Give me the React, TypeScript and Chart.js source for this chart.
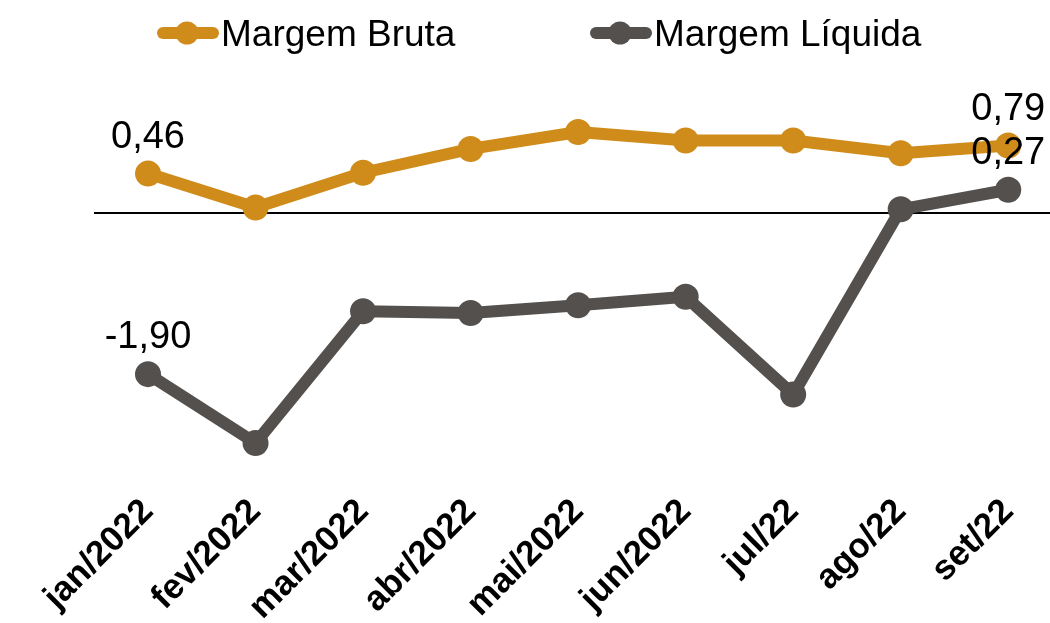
import React, { useEffect, useRef } from 'react';
import { Chart, registerables } from 'chart.js';

Chart.register(...registerables);

const categories = ['jan/2022', 'fev/2022', 'mar/2022', 'abr/2022', 'mai/2022', 'jun/2022', 'jul/22', 'ago/22', 'set/22'];
const margemBruta = [0.46, 0.06, 0.47, 0.75, 0.95, 0.85, 0.85, 0.70, 0.79];
const margemLiquida = [-1.90, -2.71, -1.16, -1.18, -1.09, -0.99, -2.14, 0.04, 0.27];
const seriesNames = ['Margem Bruta', 'Margem Líquida'];
const seriesColors = ['#D08C1A', '#53504E'];
const labeledIndices = [0, 8];

const FONT = '"Liberation Sans", Arial, Helvetica, sans-serif';

const fmt = (v: number) => v.toFixed(2).replace('.', ',');

const dataLabelPlugin = {
  id: 'dataLabels',
  afterDatasetsDraw(chart: any) {
    const ctx = chart.ctx;
    ctx.save();
    ctx.font = `38px ${FONT}`;
    ctx.fillStyle = '#000';
    ctx.textAlign = 'center';
    ctx.textBaseline = 'alphabetic';
    chart.data.datasets.forEach((ds: any, di: number) => {
      const meta = chart.getDatasetMeta(di);
      labeledIndices.forEach((i) => {
        const el = meta.data[i];
        if (!el) return;
        ctx.fillText(fmt(ds.data[i]), el.x, el.y - 26);
      });
    });
    ctx.restore();
  },
};

const customLegendPlugin = {
  id: 'customLegend',
  afterDraw(chart: any, _args: any, opts: any) {
    const ctx = chart.ctx;
    const starts: number[] = opts.starts || [];
    const y = opts.y || 33;
    ctx.save();
    chart.data.datasets.forEach((ds: any, di: number) => {
      const x0 = starts[di];
      const color = ds.borderColor;
      ctx.strokeStyle = color;
      ctx.lineWidth = 12;
      ctx.lineCap = 'round';
      ctx.beginPath();
      ctx.moveTo(x0 + 6, y);
      ctx.lineTo(x0 + 56, y);
      ctx.stroke();
      ctx.fillStyle = color;
      ctx.beginPath();
      ctx.arc(x0 + 30, y, 11.5, 0, Math.PI * 2);
      ctx.fill();
      ctx.fillStyle = '#000';
      ctx.font = `37px ${FONT}`;
      ctx.textAlign = 'left';
      ctx.textBaseline = 'alphabetic';
      ctx.fillText(ds.label, x0 + 64, y + 13);
    });
    ctx.restore();
  },
};

export default function App() {
  const canvasRef = useRef<HTMLCanvasElement | null>(null);

  useEffect(() => {
    document.body.style.margin = '0';
    const canvas = canvasRef.current;
    if (!canvas) return;
    const makeDataset = (label: string, data: number[], color: string) =>
      ({
        label,
        data,
        borderColor: color,
        backgroundColor: color,
        pointBackgroundColor: color,
        borderWidth: 12,
        pointRadius: 13,
        pointHoverRadius: 13,
        pointBorderWidth: 0,
        tension: 0,
        borderJoinStyle: 'round',
        clip: false,
      } as any);
    const chart = new Chart(canvas, {
      type: 'line',
      data: {
        labels: categories,
        datasets: [
          makeDataset(seriesNames[0], margemBruta, seriesColors[0]),
          makeDataset(seriesNames[1], margemLiquida, seriesColors[1]),
        ],
      },
      options: {
        responsive: false,
        animation: false,
        events: [],
        layout: { autoPadding: false, padding: { top: 100, left: 94.25, right: 0, bottom: 0 } },
        plugins: {
          legend: { display: false },
          tooltip: { enabled: false },
          customLegend: { starts: [157, 590], y: 33 },
        } as any,
        scales: {
          x: {
            type: 'category',
            offset: true,
            grid: { display: false, drawTicks: false },
            border: { display: false },
            ticks: {
              color: '#000',
              font: { family: FONT, size: 35, weight: 'bold' },
              maxRotation: 45,
              minRotation: 45,
              autoSkip: false,
              padding: 3,
            },
            afterFit: (scale: any) => {
              scale.height = 135;
            },
          },
          y: {
            min: -3.24,
            max: 1.326,
            grid: {
              drawTicks: false,
              color: (c: any) => (c.tick && c.tick.value === 0 ? '#000' : 'rgba(0,0,0,0)'),
              lineWidth: 2,
            },
            border: { display: false },
            ticks: { display: false },
            afterBuildTicks: (scale: any) => {
              scale.ticks = [{ value: 0 }];
            },
            afterFit: (scale: any) => {
              scale.width = 0;
            },
          },
        },
      } as any,
      plugins: [dataLabelPlugin, customLegendPlugin],
    });
    return () => chart.destroy();
  }, []);

  return (
    <div style={{ width: 1050, height: 623, overflow: 'hidden', position: 'relative', background: '#fff' }}>
      <div style={{ width: 1062, height: 623, position: 'absolute', left: 0, top: 0 }}>
        <canvas ref={canvasRef} width={1062} height={623} style={{ display: 'block', width: 1062, height: 623 }} />
      </div>
    </div>
  );
}
